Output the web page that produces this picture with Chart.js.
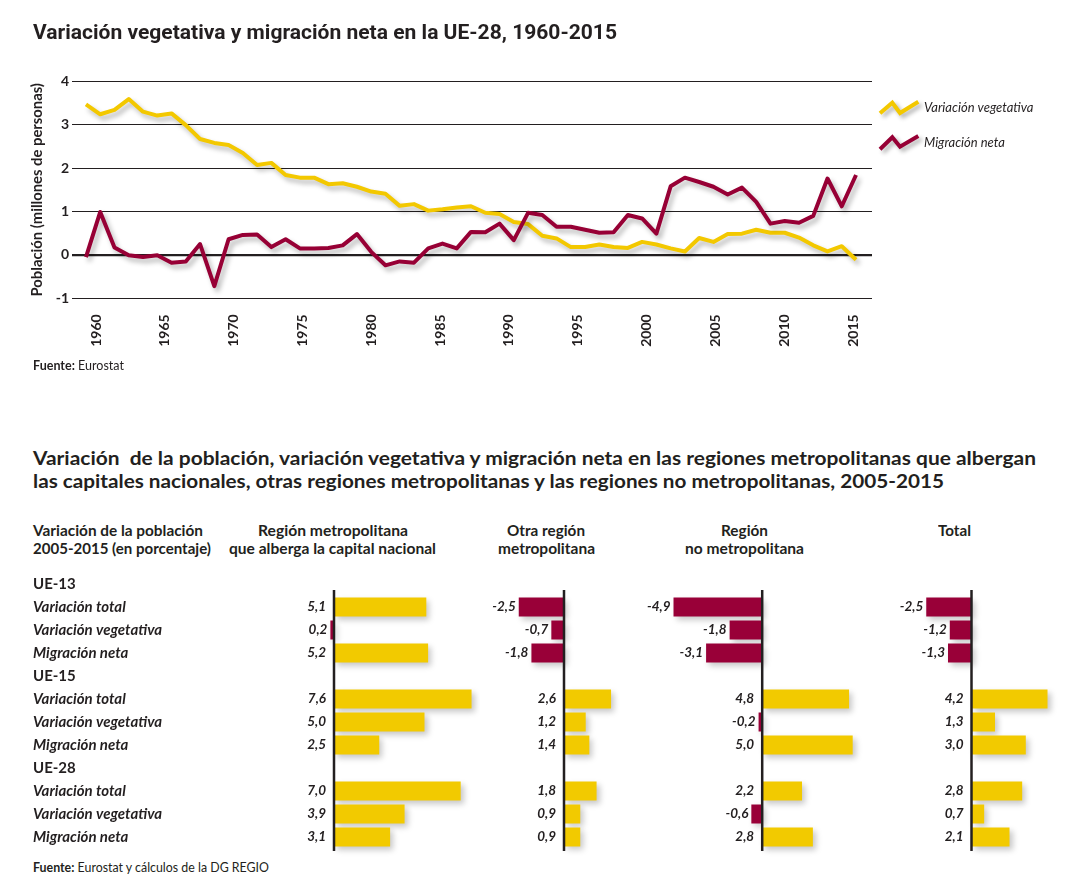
<!DOCTYPE html>
<html><head><meta charset="utf-8">
<script src="https://cdn.jsdelivr.net/npm/chart.js@4.4.1/dist/chart.umd.min.js"></script>
<style>
html,body{margin:0;padding:0;background:#fff;}
body{width:1076px;height:895px;position:relative;overflow:hidden;font-family:Lato,sans-serif;color:#231f20;}
canvas{position:absolute;}
.t{position:absolute;white-space:pre;line-height:1;transform-origin:0 0;z-index:5;}
</style></head><body>
<canvas id="lineChart" width="1076" height="360" style="left:0;top:0"></canvas>
<canvas id="bar0" width="447" height="300" style="left:33px;top:560px"></canvas>
<canvas id="bar1" width="140" height="300" style="left:480px;top:560px"></canvas>
<canvas id="bar2" width="260" height="300" style="left:620px;top:560px"></canvas>
<canvas id="bar3" width="196" height="300" style="left:880px;top:560px"></canvas>
<script>
// ---------- DATA ----------
const years = [1961,1962,1963,1964,1965,1966,1967,1968,1969,1970,
  1971,1972,1973,1974,1975,1976,1977,1978,1979,1980,
  1981,1982,1983,1984,1985,1986,1987,1988,1989,1990,
  1991,1992,1993,1994,1995,1996,1997,1998,1999,2000,
  2001,2002,2003,2004,2005,2006,2007,2008,2009,2010,
  2011,2012,2013,2014,2015];
const naturalChange = [3.47,3.24,3.34,3.59,3.30,3.21,3.26,2.99,2.67,2.58,
  2.53,2.35,2.07,2.12,1.84,1.78,1.78,1.63,1.65,1.57,
  1.46,1.41,1.13,1.17,1.02,1.05,1.09,1.12,0.97,0.94,
  0.76,0.71,0.44,0.38,0.18,0.18,0.24,0.18,0.16,0.30,
  0.24,0.15,0.08,0.39,0.30,0.48,0.49,0.58,0.51,0.51,
  0.40,0.22,0.08,0.20,-0.11];
const netMigration = [-0.05,0.99,0.17,-0.01,-0.05,-0.01,-0.18,-0.15,0.25,-0.72,
  0.36,0.46,0.47,0.18,0.36,0.15,0.15,0.16,0.22,0.48,
  0.07,-0.24,-0.15,-0.18,0.15,0.26,0.15,0.53,0.52,0.72,
  0.34,0.97,0.92,0.65,0.65,0.58,0.51,0.52,0.92,0.84,
  0.49,1.58,1.78,1.68,1.57,1.39,1.55,1.22,0.72,0.78,
  0.74,0.90,1.76,1.12,1.84];
const tickYears = [1960,1965,1970,1975,1980,1985,1990,1995,2000,2005,2010,2015];
const yTicks = [-1,0,1,2,3,4];
const seriesNames = ['Variación vegetativa','Migración neta'];

const groups = ['UE-13','UE-15','UE-28'];
const measures = ['Variación total','Variación vegetativa','Migración neta'];
const capitalRegion = [5.1,-0.2,5.2, 7.6,5.0,2.5, 7.0,3.9,3.1];
const otherMetro    = [-2.5,-0.7,-1.8, 2.6,1.2,1.4, 1.8,0.9,0.9];
const nonMetro      = [-4.9,-1.8,-3.1, 4.8,-0.2,5.0, 2.2,-0.6,2.8];
const totalRegions  = [-2.5,-1.2,-1.3, 4.2,1.3,3.0, 2.8,0.7,2.1];
// label printed in the source for the small capital-region bar
const capitalPrintedOverride = {1:'0,2'};

// ---------- STYLE ----------
const INK = '#231f20';
const YELLOW = '#F3C800', RED = '#970035';
const BAR_YELLOW = '#F2CA00', BAR_RED = '#990038';
Chart.defaults.font.family = 'Lato';
Chart.defaults.color = INK;

const shadowPlugin = {
  id:'shadow',
  beforeDatasetsDraw(chart, a, o){ const c=chart.ctx; c.save(); c.shadowColor=o.color; c.shadowBlur=o.blur; c.shadowOffsetX=o.dx; c.shadowOffsetY=o.dy; },
  afterDatasetsDraw(chart){ chart.ctx.restore(); }
};

const legendPlugin = {
  id:'zigLegend',
  afterDraw(chart){
    const c = chart.ctx;
    const items = [{y:108.3, color:YELLOW, pts:[[880,113.3],[892.3,102.7],[900,113],[918.3,101.7]]},
                   {y:143.3, color:RED, pts:[[880,149.3],[892.3,137.3],[900,146.7],[918.3,136]]}];
    items.forEach((it, i) => {
      c.save();
      c.shadowColor='rgba(0,0,0,0.3)'; c.shadowBlur=4; c.shadowOffsetX=3; c.shadowOffsetY=3;
      c.strokeStyle=it.color; c.lineWidth=4; c.lineJoin='miter'; c.lineCap='butt';
      c.beginPath(); it.pts.forEach((p,k)=> k? c.lineTo(p[0],p[1]) : c.moveTo(p[0],p[1])); c.stroke();
      c.restore();
      c.save(); c.fillStyle=INK; c.font='italic 13px Lato'; c.textBaseline='middle'; c.textAlign='left';
      c.fillText(seriesNames[i], 924, it.y); c.restore();
    });
  }
};

// ---------- LINE CHART ----------
new Chart(document.getElementById('lineChart'), {
  type:'line',
  data:{datasets:[
    {label:seriesNames[0], data:years.map((y,i)=>({x:y,y:naturalChange[i]})), borderColor:YELLOW, borderWidth:4, pointRadius:0, tension:0, borderJoinStyle:'round', order:1},
    {label:seriesNames[1], data:years.map((y,i)=>({x:y,y:netMigration[i]})), borderColor:RED, borderWidth:4, pointRadius:0, tension:0, borderJoinStyle:'round', order:0}
  ]},
  options:{
    responsive:false, animation:false, events:[],
    layout:{padding:{top:81.3,right:204,left:0,bottom:0}},
    plugins:{legend:{display:false}, tooltip:{enabled:false}, shadow:{color:'rgba(0,0,0,0.28)', blur:5, dx:3, dy:4}},
    scales:{
      x:{type:'linear', display:false, min:1960.02, max:2016.12},
      xl:{type:'linear', position:'bottom', min:1958.256, max:2016.38,
        grid:{display:false, drawTicks:false}, border:{display:false},
        ticks:{autoSkip:false, minRotation:90, maxRotation:90, padding:16, color:INK, font:{weight:'bold', size:14}, callback:v=>String(v)},
        afterBuildTicks:s=>{ s.ticks = tickYears.map(v=>({value:v})); },
        afterFit:s=>{ s.height = 61.7; }},
      y:{type:'linear', min:-1, max:4,
        afterBuildTicks:s=>{ s.ticks = yTicks.map(v=>({value:v})); },
        afterFit:s=>{ s.width = 72; },
        ticks:{padding:3, color:INK, font:{weight:'bold', size:14}, callback:v=>String(v)},
        grid:{color:INK, lineWidth:c=>(c.tick && c.tick.value===0) ? 2.2 : 1, drawTicks:false},
        border:{display:false},
        title:{display:true, text:'Población (millones de personas)', color:INK, font:{weight:'bold', size:14.8}, padding:{top:28.5,bottom:0}}}
    }
  },
  plugins:[shadowPlugin, legendPlugin]
});

// ---------- BAR PANELS ----------
const PX_PER_UNIT = 18.1;
const rowLabels = [];
groups.forEach(g => { rowLabels.push(g); measures.forEach(m => rowLabels.push(m)); });
function rowValues(v){ const out=[]; groups.forEach((g,gi)=>{ out.push(null); for(let k=0;k<3;k++) out.push(v[gi*3+k]); }); return out; }
function fmt(v){ return v.toFixed(1).replace('.', ','); }

const panels = [
  {values:capitalRegion, override:capitalPrintedOverride, canvasLeft:33, areaLeft:290, areaRight:480, zero:334},
  {values:otherMetro, override:{}, canvasLeft:480, areaLeft:480, areaRight:620, zero:564},
  {values:nonMetro, override:{}, canvasLeft:620, areaLeft:620, areaRight:880, zero:762.2},
  {values:totalRegions, override:{}, canvasLeft:880, areaLeft:880, areaRight:1076, zero:971.5}
];

const barLabelPlugin = {
  id:'barLabels',
  afterDatasetsDraw(chart, a, o){
    const {ctx, chartArea} = chart; const xs = chart.scales.x, ys = chart.scales.y;
    const x0 = xs.getPixelForValue(0);
    ctx.save();
    ctx.strokeStyle = INK; ctx.lineWidth = 2.5;
    ctx.beginPath(); ctx.moveTo(x0, ys.getPixelForValue(1) - 17); ctx.lineTo(x0, chartArea.bottom + 2.5); ctx.stroke();
    ctx.font = 'italic bold 13.5px Lato'; ctx.fillStyle = INK; ctx.textAlign = 'right'; ctx.textBaseline = 'middle';
    const data = chart.data.datasets[0].data;
    chart.getDatasetMeta(0).data.forEach((bar, i) => {
      const v = data[i]; if (v === null || v === undefined) return;
      const xr = v < 0 ? bar.x - 3 : x0 - 8;
      ctx.fillText(o.labels[i], xr, bar.y - 0.5);
    });
    ctx.restore();
  }
};

panels.forEach((p, pi) => {
  const vals = rowValues(p.values);
  const labels = rowValues(p.values.map((v,k)=> p.override[k] !== undefined ? p.override[k] : fmt(v)));
  const yOpts = pi === 0 ? {
      type:'category', display:true,
      grid:{display:false, drawTicks:false}, border:{display:false},
      afterFit:s=>{ s.width = p.areaLeft - p.canvasLeft; },
      ticks:{crossAlign:'far', padding:0, autoSkip:false, color:INK,
        font:c => (c.index % 4 === 0) ? {weight:'bold', size:15, family:'Lato'} : {weight:'bold', style:'italic', size:15, family:'Lato'}}
    } : {type:'category', display:false};
  new Chart(document.getElementById('bar'+pi), {
    type:'bar',
    data:{labels:rowLabels, datasets:[{data:vals, backgroundColor:c=> (c.raw < 0 ? BAR_RED : BAR_YELLOW), barPercentage:19/23, categoryPercentage:1, clip:false}]},
    options:{
      indexAxis:'y', responsive:false, animation:false, events:[],
      layout:{padding:{top:12.5, bottom:11.5, left:0, right:0}},
      plugins:{legend:{display:false}, tooltip:{enabled:false},
        shadow:{color:'rgba(0,0,0,0.22)', blur:6, dx:3, dy:3},
        barLabels:{labels:labels}},
      scales:{
        x:{type:'linear', display:false, min:(p.areaLeft - p.zero)/PX_PER_UNIT, max:(p.areaRight - p.zero)/PX_PER_UNIT},
        y:yOpts
      }
    },
    plugins:[shadowPlugin, barLabelPlugin]
  });
});

// ---------- HTML TEXT ----------
const K = {Lato:0.529, Roboto:0.486};
const textSpecs = [
  {html:'Variación vegetativa y migración neta en la UE-28, 1960-2015', x:33, cy:32.5, w:584, fs:21, fam:'Roboto', wt:700},
  {html:'<b>Fuente:</b> Eurostat', x:33, cy:366.7, w:91, fs:12.5, fam:'Lato', wt:400},
  {html:'Variación  de la población, variación vegetativa y migración neta en las regiones metropolitanas que albergan', x:33, cy:458.7, w:1003, fs:18.5, fam:'Lato', wt:700},
  {html:'las capitales nacionales, otras regiones metropolitanas y las regiones no metropolitanas, 2005-2015', x:33, cy:481.3, w:911, fs:18.5, fam:'Lato', wt:700},
  {html:'Variación de la población', x:33, cy:531.7, w:170, fs:14.5, fam:'Lato', wt:700},
  {html:'2005-2015 (en porcentaje)', x:33, cy:549.7, w:178, fs:14.5, fam:'Lato', wt:700},
  {html:'Región metropolitana', cx:333, cy:531.7, w:150, fs:14.5, fam:'Lato', wt:700},
  {html:'que alberga la capital nacional', cx:332.5, cy:549.7, w:207, fs:14.5, fam:'Lato', wt:700},
  {html:'Otra región', cx:546, cy:531.7, w:78, fs:14.5, fam:'Lato', wt:700},
  {html:'metropolitana', cx:546.5, cy:549.7, w:97, fs:14.5, fam:'Lato', wt:700},
  {html:'Región', cx:744.5, cy:531.7, w:47, fs:14.5, fam:'Lato', wt:700},
  {html:'no metropolitana', cx:744.5, cy:549.7, w:119, fs:14.5, fam:'Lato', wt:700},
  {html:'Total', cx:954, cy:531.7, w:33, fs:14.5, fam:'Lato', wt:700},
  {html:'<b>Fuente:</b> Eurostat y cálculos de la DG REGIO', x:33, cy:869, w:236, fs:12.5, fam:'Lato', wt:400}
];
textSpecs.forEach(s => {
  const el = document.createElement('div');
  el.className = 't';
  el.innerHTML = s.html;
  el.style.fontFamily = s.fam; el.style.fontWeight = s.wt; el.style.fontSize = s.fs + 'px';
  document.body.appendChild(el);
  const actual = el.getBoundingClientRect().width;
  const left = (s.x !== undefined) ? s.x : s.cx - s.w/2;
  el.style.left = left + 'px';
  el.style.top = (s.cy - K[s.fam]*s.fs) + 'px';
  el.style.transform = 'scaleX(' + (s.w/actual) + ')';
});
</script>
</body></html>
